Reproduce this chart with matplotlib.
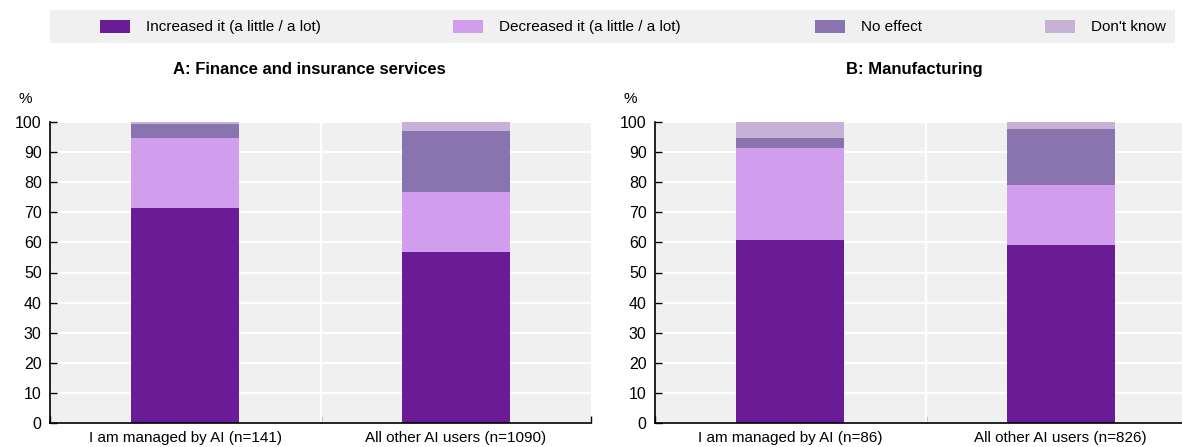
import matplotlib
matplotlib.use("Agg")
import matplotlib.pyplot as plt
from matplotlib.patches import Rectangle
import numpy as np

plt.rcParams["font.family"] = ["Liberation Sans", "DejaVu Sans"]

# --- data -------------------------------------------------------------------
series = ["Increased it (a little / a lot)", "Decreased it (a little / a lot)",
          "No effect", "Don't know"]
colors = ["#6a1b96", "#d09eec", "#8a74b0", "#c7b1d6"]

panel_titles = ["A: Finance and insurance services", "B: Manufacturing"]
cats_a = ["I am managed by AI (n=141)", "All other AI users (n=1090)"]
cats_b = ["I am managed by AI (n=86)", "All other AI users (n=826)"]

# rows = series, cols = categories
vals_a = [[71.4, 56.7],
          [23.2, 19.9],
          [4.7, 20.5],
          [0.7, 2.9]]
vals_b = [[60.8, 59.2],
          [30.7, 19.9],
          [3.2, 18.7],
          [5.3, 2.2]]

W, H = 1182, 447
fig = plt.figure(figsize=(W / 100, H / 100), dpi=100)

# legend strip
fig.add_artist(Rectangle((50 / W, 1 - 43 / H), 1125 / W, 33 / H,
                         transform=fig.transFigure, facecolor="#f0f0f0",
                         edgecolor="none"))
mark_x = [100, 453, 815, 1045]
for name, col, mx in zip(series, colors, mark_x):
    fig.add_artist(Rectangle((mx / W, 1 - 33 / H), 30 / W, 13 / H,
                             transform=fig.transFigure, facecolor=col,
                             edgecolor="none"))
    fig.text((mx + 46) / W, 1 - 27 / H, name, ha="left", va="center",
             fontsize=11)


def draw_panel(ax, title, cats, vals):
    x = np.arange(len(cats))
    bottom = np.zeros(len(cats))
    for v, col in zip(vals, colors):
        ax.bar(x, v, width=0.4, bottom=bottom, color=col, edgecolor="none",
               zorder=3)
        bottom += np.array(v)
    ax.set_facecolor("#f0f0f0")
    ax.set_xlim(-0.5, 1.5)
    ax.set_ylim(0, 100)
    ax.set_yticks(np.arange(0, 101, 10))
    ax.yaxis.grid(True, color="white", linewidth=1.6, zorder=1)
    ax.axvline(0.5, color="white", linewidth=1.6, zorder=1)
    ax.set_axisbelow(True)
    ax.set_xticks(x)
    ax.set_xticklabels(cats, fontsize=11)
    ax.set_xticks([-0.5, 0.5, 1.5], minor=True)
    ax.tick_params(axis="x", which="major", length=0, pad=6)
    ax.tick_params(axis="x", which="minor", direction="in", length=5, width=1)
    ax.tick_params(axis="y", direction="in", length=5, width=1,
                   labelsize=11.5, pad=6)
    for s in ("top", "right"):
        ax.spines[s].set_visible(False)
    for s in ("left", "bottom"):
        ax.spines[s].set_linewidth(1.2)
        ax.spines[s].set_zorder(4)
    ax.text(-0.046, 1.075, "%", transform=ax.transAxes, ha="center",
            va="center", fontsize=11)
    ax.text(0.48, 1.175, title, transform=ax.transAxes, ha="center",
            va="center", fontsize=12, fontweight="bold")


ax_a = fig.add_axes([50 / W, 24 / H, 541 / W, 301 / H])
ax_b = fig.add_axes([655 / W, 24 / H, 541 / W, 301 / H])
draw_panel(ax_a, panel_titles[0], cats_a, vals_a)
draw_panel(ax_b, panel_titles[1], cats_b, vals_b)

fig.savefig("out.png", dpi=100)
